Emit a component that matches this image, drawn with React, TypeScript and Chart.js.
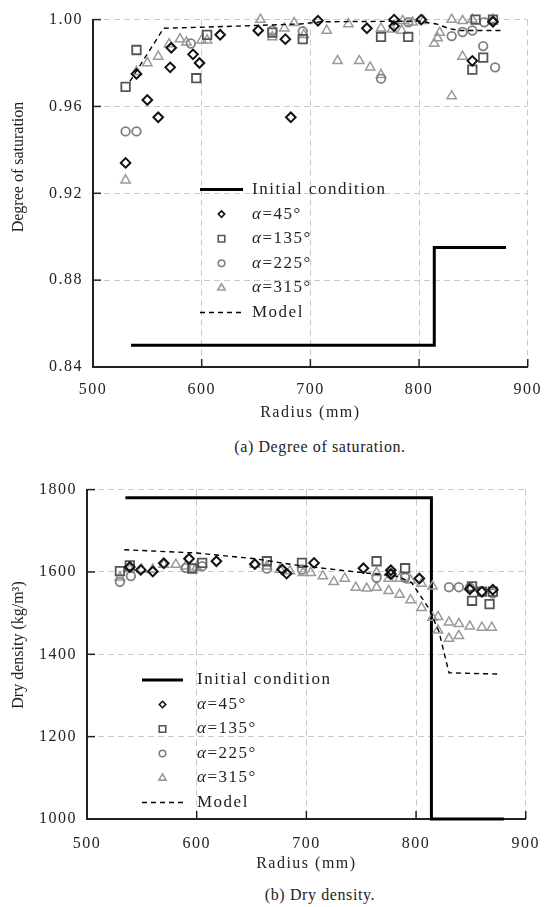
import React, { useEffect, useRef } from 'react';
import { Chart, registerables } from 'chart.js';

Chart.register(...registerables);

const FONT = '"Liberation Serif", "Times New Roman", serif';

type Pt = [number, number];

// ---------- shared ----------
const radiusTicks = [500, 600, 700, 800, 900];
const legendLabels = ['Initial condition', 'α=45°', 'α=135°', 'α=225°', 'α=315°', 'Model'];

// ---------- (a) Degree of saturation ----------
const satTicks = [0.84, 0.88, 0.92, 0.96, 1.0];
const satInitial: Pt[] = [[535, 0.85], [814, 0.85], [814, 0.895], [880, 0.895]];
const satModel: Pt[] = [
  [534, 0.9716], [565, 0.996], [633, 0.997], [691, 0.998], [710, 0.999], [800, 0.9993],
  [816, 0.998], [828, 0.9958], [837, 0.995], [876, 0.995],
];
const sat45: Pt[] = [
  [530, 0.934], [540, 0.975], [550, 0.963], [560, 0.955], [571, 0.978], [572, 0.987],
  [592, 0.984], [598, 0.98], [617, 0.993], [652, 0.995], [677, 0.991], [682, 0.955],
  [707, 0.9995], [752, 0.996], [777, 1.0], [777, 0.997], [802, 1.0], [849, 0.981], [868, 0.999],
];
const sat135: Pt[] = [
  [530, 0.969], [540, 0.986], [595, 0.973], [605, 0.993], [665, 0.994], [693, 0.991],
  [765, 0.992], [790, 0.992], [849, 0.977], [852, 1.0], [859, 0.9825], [868, 1.0],
];
const sat225: Pt[] = [
  [530, 0.9485], [540, 0.9485], [590, 0.989], [665, 0.995], [693, 0.9946], [765, 0.9728],
  [790, 0.9988], [830, 0.9924], [840, 0.9943], [849, 0.995], [859, 0.9878], [860, 0.9988], [870, 0.978],
];
const sat315: Pt[] = [
  [530, 0.926], [540, 0.976], [550, 0.98], [560, 0.983], [570, 0.9887], [580, 0.991],
  [586, 0.9895], [600, 0.9905], [605, 0.9905], [654, 1.0], [665, 0.992], [676, 0.996],
  [685, 0.9985], [694, 0.993], [715, 0.995], [725, 0.981], [735, 0.998], [745, 0.981],
  [755, 0.978], [765, 0.996], [765, 0.9746], [775, 0.9955], [784, 0.995], [785, 0.9995],
  [794, 0.9988], [804, 0.9995], [814, 0.989], [817, 0.9915], [819, 0.994], [830, 1.0],
  [830, 0.9648], [840, 0.9995], [840, 0.983], [849, 1.0], [868, 1.0],
];

// ---------- (b) Dry density ----------
const ddTicks = [1000, 1200, 1400, 1600, 1800];
const ddInitial: Pt[] = [[535, 1780], [814, 1780], [814, 1000], [880, 1000]];
const ddModel: Pt[] = [
  [534, 1654], [600, 1646], [653, 1632], [692, 1616], [752, 1598], [782, 1590],
  [796, 1574], [812, 1510], [821, 1454], [825, 1410], [830, 1355], [875, 1352],
];
const dd45: Pt[] = [
  [539, 1612], [549, 1605], [560, 1601], [570, 1621], [593, 1632], [618, 1626],
  [653, 1619], [678, 1606], [682, 1596], [707, 1622], [752, 1609], [777, 1604],
  [777, 1595], [803, 1584], [849, 1558], [860, 1552], [870, 1557],
];
const dd135: Pt[] = [
  [530, 1602], [539, 1616], [596, 1608], [605, 1622], [664, 1626], [696, 1622],
  [764, 1626], [790, 1609], [851, 1565], [851, 1530], [860, 1552], [867, 1522], [870, 1552],
];
const dd225: Pt[] = [
  [530, 1576], [540, 1590], [590, 1610], [596, 1610], [605, 1614], [664, 1608],
  [696, 1606], [764, 1586], [777, 1595], [790, 1586], [830, 1563], [839, 1563],
  [849, 1562], [860, 1552], [870, 1548],
];
const dd315: Pt[] = [
  [530, 1587], [539, 1607], [550, 1606], [560, 1606], [570, 1618], [581, 1618],
  [590, 1614], [600, 1611], [653, 1618], [664, 1614], [676, 1606], [685, 1602],
  [697, 1598], [704, 1598], [715, 1590], [725, 1576], [735, 1584], [745, 1562],
  [755, 1560], [764, 1598], [764, 1562], [775, 1554], [775, 1584], [785, 1545],
  [785, 1584], [795, 1532], [795, 1580], [805, 1513], [805, 1572], [815, 1565],
  [815, 1489], [820, 1491], [820, 1458], [830, 1478], [830, 1438], [839, 1474],
  [839, 1445], [849, 1468], [860, 1465], [869, 1465],
];

// ---------- styles ----------
const markerStyles = [
  { style: 'rectRot', color: '#111111', r: 4.8, lr: 3.2, bw: 2 },
  { style: 'rect', color: '#555555', r: 6, lr: 4.6, bw: 1.8 },
  { style: 'circle', color: '#808080', r: 4.3, lr: 3.3, bw: 1.8 },
  { style: 'triangle', color: '#9a9a9a', r: 5.4, lr: 4.2, bw: 1.5 },
];

function drawMarker(ctx: CanvasRenderingContext2D, style: string, x: number, y: number, r: number) {
  ctx.beginPath();
  if (style === 'rectRot') {
    ctx.moveTo(x - r, y); ctx.lineTo(x, y - r); ctx.lineTo(x + r, y); ctx.lineTo(x, y + r); ctx.closePath();
  } else if (style === 'rect') {
    const s = r * Math.SQRT1_2;
    ctx.rect(x - s, y - s, 2 * s, 2 * s);
  } else if (style === 'circle') {
    ctx.arc(x, y, r, 0, Math.PI * 2);
  } else {
    ctx.moveTo(x, y - r); ctx.lineTo(x + 0.866 * r, y + 0.5 * r); ctx.lineTo(x - 0.866 * r, y + 0.5 * r); ctx.closePath();
  }
  ctx.stroke();
}

const toXY = (a: Pt[]) => a.map(([x, y]) => ({ x, y }));

interface Cfg {
  top: number; height: number; padTop: number; padRight: number; yAxisW: number; xAxisH: number;
  xTickPad: number; xTitlePadBottom: number; yTicks: number[]; yFmt: (v: number) => string;
  yTitle: string; yTitleX: number; yTitleCY: number;
  initial: Pt[]; model: Pt[]; series: Pt[][];
  legend: { x1: number; x2: number; textX: number; y0: number; dy: number };
}

function buildConfig(cfg: Cfg): any {
  const datasets: any[] = [
    {
      label: legendLabels[0], data: toXY(cfg.initial), showLine: true, borderColor: '#000',
      borderWidth: 3, pointRadius: 0, fill: false, order: 5, clip: false,
    },
    ...cfg.series.map((s, i) => ({
      label: legendLabels[i + 1], data: toXY(s), showLine: false,
      pointStyle: markerStyles[i].style, pointRadius: markerStyles[i].r,
      pointBorderWidth: markerStyles[i].bw, pointBorderColor: markerStyles[i].color,
      pointBackgroundColor: 'rgba(0,0,0,0)', order: 1 + i, clip: false,
    })),
    {
      label: legendLabels[5], data: toXY(cfg.model), showLine: true, borderColor: '#000',
      borderWidth: 1.4, borderDash: [5, 4], pointRadius: 0, fill: false, order: 0, clip: false,
    },
  ];

  const setup = {
    id: 'setup',
    beforeUpdate(chart: any) { chart.ctx.letterSpacing = '1.5px'; },
    beforeDraw(chart: any) { chart.ctx.letterSpacing = '1.5px'; },
  };

  const innerTicks = {
    id: 'innerTicks',
    beforeDatasetsDraw(chart: any) {
      const { ctx, chartArea } = chart;
      const xs = chart.scales.x, ys = chart.scales.y;
      ctx.save();
      ctx.setLineDash([]);
      ctx.strokeStyle = '#222';
      ctx.lineWidth = 1.5;
      xs.ticks.forEach((t: any) => {
        const px = xs.getPixelForValue(t.value);
        ctx.beginPath(); ctx.moveTo(px, chartArea.bottom); ctx.lineTo(px, chartArea.bottom - 8); ctx.stroke();
      });
      ys.ticks.forEach((t: any) => {
        const py = ys.getPixelForValue(t.value);
        ctx.beginPath(); ctx.moveTo(chartArea.left, py); ctx.lineTo(chartArea.left + 8, py); ctx.stroke();
      });
      ctx.restore();
    },
  };

  const extras = {
    id: 'extras',
    afterDraw(chart: any) {
      const { ctx } = chart;
      // y title
      ctx.save();
      ctx.letterSpacing = '0px';
      ctx.font = `16px ${FONT}`;
      ctx.fillStyle = '#222';
      ctx.textAlign = 'center';
      ctx.textBaseline = 'middle';
      ctx.translate(cfg.yTitleX, cfg.yTitleCY);
      ctx.rotate(-Math.PI / 2);
      ctx.fillText(cfg.yTitle, 0, 0);
      ctx.restore();

      // legend
      const L = cfg.legend;
      const cx = (L.x1 + L.x2) / 2;
      ctx.save();
      ctx.letterSpacing = '1.5px';
      legendLabels.forEach((label, i) => {
        const y = L.y0 + i * L.dy;
        ctx.setLineDash([]);
        if (i === 0 || i === 5) {
          ctx.strokeStyle = '#000';
          ctx.lineWidth = i === 0 ? 3 : 1.4;
          ctx.setLineDash(i === 0 ? [] : [5, 4]);
          ctx.beginPath(); ctx.moveTo(L.x1, y); ctx.lineTo(L.x2, y); ctx.stroke();
          ctx.setLineDash([]);
        } else {
          const m = markerStyles[i - 1];
          ctx.strokeStyle = m.color;
          ctx.lineWidth = 1.6;
          drawMarker(ctx, m.style, cx, y, m.lr);
        }
        ctx.fillStyle = '#222';
        ctx.textAlign = 'left';
        ctx.textBaseline = 'middle';
        if (label.startsWith('α')) {
          ctx.font = `italic 17px ${FONT}`;
          ctx.fillText('α', L.textX, y);
          const w = ctx.measureText('α').width;
          ctx.font = `17px ${FONT}`;
          ctx.fillText(label.slice(1), L.textX + w, y);
        } else {
          ctx.font = `17px ${FONT}`;
          ctx.fillText(label, L.textX, y);
        }
      });
      ctx.restore();
    },
  };

  const gridColor = '#c8c8c8';
  return {
    type: 'scatter',
    data: { datasets },
    options: {
      animation: false,
      responsive: false,
      events: [],
      layout: { padding: { top: cfg.padTop, right: cfg.padRight, left: 0, bottom: 0 } },
      plugins: { legend: { display: false }, tooltip: { enabled: false } },
      scales: {
        x: {
          type: 'linear', min: 500, max: 900,
          afterBuildTicks: (s: any) => { s.ticks = radiusTicks.map((v) => ({ value: v })); },
          afterFit: (s: any) => { s.height = cfg.xAxisH; },
          grid: { color: gridColor, lineWidth: 1, drawTicks: false },
          border: { display: true, color: '#222', width: 2, dash: [6, 4] },
          ticks: {
            padding: cfg.xTickPad, color: '#222', maxRotation: 0, autoSkip: false,
            font: { family: FONT, size: 16 }, callback: (v: number) => String(v),
          },
          title: {
            display: true, text: 'Radius (mm)', color: '#222',
            font: { family: FONT, size: 16 }, padding: { top: 0, bottom: cfg.xTitlePadBottom },
          },
        },
        y: {
          type: 'linear', min: cfg.yTicks[0], max: cfg.yTicks[cfg.yTicks.length - 1],
          afterBuildTicks: (s: any) => { s.ticks = cfg.yTicks.map((v) => ({ value: v })); },
          afterFit: (s: any) => { s.width = cfg.yAxisW; },
          grid: { color: gridColor, lineWidth: 1, drawTicks: false },
          border: { display: true, color: '#222', width: 2, dash: [6, 4] },
          ticks: {
            padding: 10, color: '#222', autoSkip: false,
            font: { family: FONT, size: 16 }, callback: (v: number) => cfg.yFmt(v),
          },
          title: { display: false },
        },
      },
    },
    plugins: [setup, innerTicks, extras],
  };
}

const satCfg: Cfg = {
  top: 0, height: 430, padTop: 14, padRight: 19, yAxisW: 93, xAxisH: 63,
  xTickPad: 13, xTitlePadBottom: 8, yTicks: satTicks, yFmt: (v) => v.toFixed(2),
  yTitle: 'Degree of saturation', yTitleX: 19, yTitleCY: 167,
  initial: satInitial, model: satModel, series: [sat45, sat135, sat225, sat315],
  legend: { x1: 200, x2: 243, textX: 252, y0: 189.5, dy: 24.6 },
};

const ddCfg: Cfg = {
  top: 470, height: 410, padTop: 16, padRight: 24, yAxisW: 87, xAxisH: 61,
  xTickPad: 15, xTitlePadBottom: 7, yTicks: ddTicks, yFmt: (v) => String(v),
  yTitle: 'Dry density (kg/m³)', yTitleX: 19, yTitleCY: 175,
  initial: ddInitial, model: ddModel, series: [dd45, dd135, dd225, dd315],
  legend: { x1: 142, x2: 183, textX: 197, y0: 210, dy: 24.5 },
};

function SubChart({ cfg }: { cfg: Cfg }) {
  const ref = useRef<HTMLCanvasElement | null>(null);
  useEffect(() => {
    if (!ref.current) return;
    const chart = new Chart(ref.current, buildConfig(cfg));
    return () => chart.destroy();
  }, [cfg]);
  return (
    <canvas
      ref={ref}
      width={555}
      height={cfg.height}
      style={{ position: 'absolute', left: 0, top: cfg.top, display: 'block' }}
    />
  );
}

const captionStyle: React.CSSProperties = {
  position: 'absolute', left: 320, transform: 'translateX(-50%)', whiteSpace: 'nowrap',
  fontFamily: FONT, fontSize: 16, lineHeight: '20px', color: '#222', letterSpacing: '0.6px',
};

export default function App() {
  return (
    <div style={{ position: 'absolute', left: 0, top: 0, width: 555, height: 907, background: '#fff' }}>
      <SubChart cfg={satCfg} />
      <div style={{ ...captionStyle, top: 437 }}>(a) Degree of saturation.</div>
      <SubChart cfg={ddCfg} />
      <div style={{ ...captionStyle, top: 885 }}>(b) Dry density.</div>
    </div>
  );
}
